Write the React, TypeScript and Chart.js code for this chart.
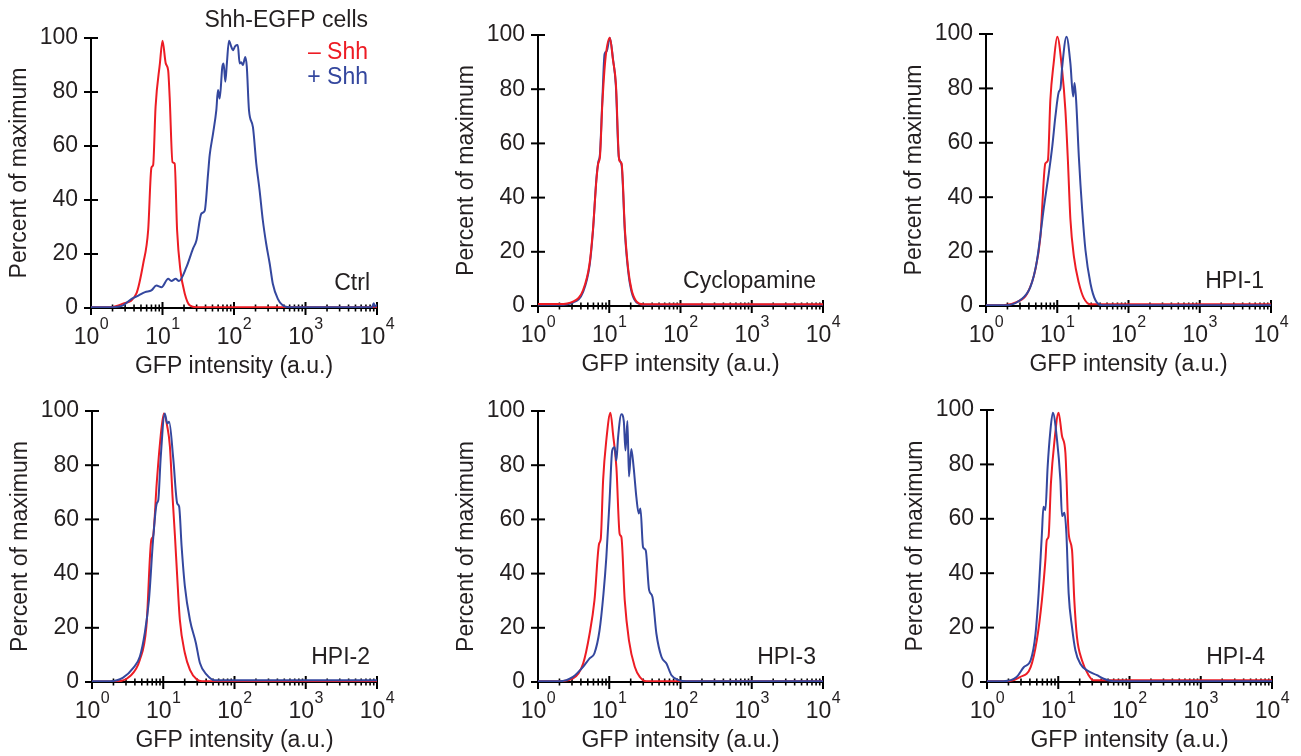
import React, { useEffect, useRef } from 'react';
import { Chart, registerables } from 'chart.js';

Chart.register(...registerables);

const FONT = '"Liberation Sans", Arial, Helvetica, sans-serif';
const TEXT = '#231f20';
const RED = '#ed1c24';
const BLUE = '#34479e';

// ---------- data (GFP intensity, percent of maximum) ----------
const ctrlMinusX = [1, 1.84, 2.8, 4.3, 5.37, 6.3, 7.0, 7.4, 8.0, 9.2, 10, 11.1, 12.0, 12.6, 13.8, 14.8, 16.0, 17.8, 20.5, 24, 29.8, 10000];
const ctrlMinusY = [0.3, 0.3, 1.6, 5.3, 16.4, 28.8, 52, 53, 74.5, 90.6, 99, 90.6, 88, 78, 54, 53.5, 28.8, 14, 5.3, 1, 0.3, 0.3];
const ctrlPlusX = [1, 1.84, 2.8, 3.7, 4.6, 5.7, 7.0, 8.2, 9.7, 12.0, 13.3, 15.3, 17.0, 21.6, 26.7, 29.8, 35.0, 38.9, 43.4, 45.7, 50.9, 56.6, 59.7, 63, 68.7, 71.6, 75.6, 79.5, 85, 91.5, 96.6, 104, 113, 120, 126, 133, 144, 151, 162, 184, 205, 228, 253, 282, 316, 349, 410, 479, 596, 8500, 9000, 9400, 10000];
const ctrlPlusY = [0.3, 0.3, 1, 3.4, 4.6, 5.9, 6.5, 8.3, 7.7, 10.8, 10, 10.8, 10, 15.1, 22, 25, 35, 36, 49.8, 56.6, 64.6, 73.3, 80.7, 77.6, 89.4, 90.6, 83.8, 90.6, 99, 96.8, 95.5, 97, 97.4, 90.6, 91, 90, 93, 89.4, 73.3, 67, 53.5, 43.6, 32.5, 23.8, 16.4, 9, 3.4, 1, 0.3, 0.3, 1.8, 0.5, 1.2];

const cycMinusX = [1, 2.0, 3.1, 4.3, 5.3, 5.9, 6.6, 7.0, 7.4, 8.0, 8.9, 10.2, 11.3, 12.4, 13.8, 14.9, 16.6, 18.5, 20.6, 24.2, 30, 10000];
const cycMinusY = [0.7, 0.7, 1.6, 5.9, 15.7, 28, 46.4, 52.6, 55, 74.7, 91.9, 99, 90.7, 82, 53.8, 52.6, 28, 13.3, 5.9, 1.6, 0.6, 0.6];
const cycPlusX = [1, 2.0, 3.1, 4.3, 5.3, 5.9, 6.6, 7.0, 7.4, 8.0, 8.6, 9.2, 10.2, 11.3, 12.4, 13.6, 14.9, 16.6, 18.5, 20.6, 24.2, 30, 10000];
const cycPlusY = [0.5, 0.5, 1.3, 5.2, 15, 27.5, 47, 53, 56, 76, 93, 94, 99, 91, 81, 55, 52, 27, 12.5, 5.2, 1.3, 0.5, 0.5];

const hpi1MinusX = [1, 1.77, 2.73, 3.77, 4.9, 5.8, 6.8, 7.4, 8.0, 8.9, 10.0, 11.7, 13.0, 14.1, 15.3, 17.1, 20.1, 23.6, 29.3, 10000];
const hpi1MinusY = [0.3, 0.3, 1.5, 4.5, 13.1, 25.4, 52.4, 53.6, 75.7, 89.2, 99, 86.8, 72.1, 53.6, 31.9, 18.3, 8.5, 2.9, 0.6, 0.6];
const hpi1PlusX = [1, 1.9, 3.0, 4.2, 5.2, 6.5, 7.6, 8.5, 9.4, 10.5, 11.1, 11.7, 13.5, 15.3, 16.7, 17.5, 18.4, 20.1, 22.4, 24.9, 29.3, 34.4, 42.8, 10000];
const hpi1PlusY = [0.3, 0.3, 2.1, 7, 16.8, 36.4, 48.7, 58.5, 69.5, 78.7, 80, 87.6, 99, 89.2, 77, 82, 75.7, 54.8, 35.2, 20.5, 8.2, 2.1, 0.3, 0.3];

const hpi2MinusX = [1, 2.2, 3.4, 4.7, 5.8, 6.8, 7.2, 8.1, 9.0, 10.2, 11.4, 12.4, 13.5, 14.6, 15.7, 17.1, 20.1, 23.7, 29.4, 35, 10000];
const hpi2MinusY = [0.2, 0.2, 2.1, 8.2, 20.5, 52.5, 53.8, 73.4, 88.1, 99.1, 94.2, 86.9, 68.5, 53.8, 38.9, 22.9, 10.7, 4.5, 1, 0.3, 0.3];
const hpi2PlusX = [1, 1.8, 2.7, 3.8, 4.7, 5.5, 6.3, 7.2, 8.1, 8.5, 9.2, 10.5, 11.4, 12.1, 13.8, 15.7, 16.7, 18.1, 20.1, 23.7, 28.7, 32.7, 40.6, 53.2, 10000];
const hpi2PlusY = [0.3, 0.3, 1.5, 5.2, 9.4, 18, 30.3, 52.5, 65.9, 67, 82.6, 99.1, 95.4, 96, 82.6, 65.9, 64.8, 50.1, 35.4, 22.9, 14.4, 7, 2.7, 0.6, 0.6];

const hpi3MinusX = [1, 2.0, 3.1, 4.3, 5.3, 6.2, 7.2, 7.6, 8.2, 9.1, 10.4, 11.3, 12.6, 14.0, 14.8, 16.5, 18.9, 22.8, 26.8, 33.2, 10000];
const hpi3MinusY = [0.3, 0.3, 1.3, 6.8, 17.8, 30.1, 51, 52.8, 74.5, 89.3, 99.4, 91.5, 79.2, 54.6, 53.5, 30.1, 15.4, 5.6, 1.9, 0.3, 0.3];
const hpi3PlusX = [1, 2.0, 3.1, 4.3, 5.3, 6.2, 7.3, 8.3, 9.1, 10.1, 11.0, 11.9, 12.6, 13.3, 14.8, 16.0, 16.9, 18.0, 18.9, 20.4, 22.0, 24.0, 25.9, 27.4, 29.8, 32.5, 36.2, 40.4, 45.9, 54, 63.5, 74.7, 97.7, 120, 10000];
const hpi3PlusY = [0.3, 0.3, 1.9, 5.6, 8.7, 10.6, 19, 32.6, 46, 67, 85.4, 86.6, 81.7, 90.3, 98.8, 96.3, 85.4, 96.3, 75.8, 86, 79.2, 68.3, 62.2, 64, 49.8, 48.6, 34, 31.4, 17.8, 9.3, 6.8, 2.5, 0.6, 0.3, 0.3];

const hpi4MinusX = [1, 1.9, 2.9, 4.1, 5.0, 5.9, 6.6, 6.9, 7.3, 7.9, 8.8, 10.1, 11.3, 12.6, 14.0, 15.6, 16.8, 18.3, 21.5, 26.7, 31.3, 10000];
const hpi4MinusY = [0.3, 0.3, 1.8, 5.5, 15.3, 30.1, 44.8, 52.2, 53.4, 73.3, 88, 99, 90.4, 84.3, 54.7, 48.6, 30.1, 16.6, 8, 2.5, 0.6, 0.6];
const hpi4PlusX = [1, 1.7, 2.6, 3.3, 4.1, 4.8, 5.3, 5.9, 6.2, 6.6, 7.1, 7.7, 8.4, 9.6, 10.7, 11.3, 12.2, 13.0, 14.0, 15.6, 17.4, 20.4, 25.3, 35.0, 43.4, 60, 10000];
const hpi4PlusY = [0.3, 0.3, 1.8, 5.5, 8, 17.8, 32.5, 54.7, 64.4, 63.2, 79.2, 91.5, 99, 89.2, 74.5, 61, 62.2, 54.7, 32.5, 20.2, 11.7, 6.7, 4.3, 2.5, 1.2, 0.3, 0.3];

// axis ticks
const xDecades = [1, 10, 100, 1000, 10000];
const xExponents = ['0', '1', '2', '3', '4'];
const xMinorMultipliers = [2, 3, 4, 5, 6, 7, 8, 9];
const yTickStep = 20;

const xTitle = 'GFP intensity (a.u.)';
const yTitle = 'Percent of maximum';
const headerText = 'Shh-EGFP cells';
const legendMinus = '\u2013 Shh';
const legendPlus = '+ Shh';

// ---------- layout ----------
const Y_AXIS_W = 91;
const X_AXIS_H = 72;
const PAD_TOP = 40;
const PAD_RIGHT = 24;

type Panel = {
  label: string;
  left: number; top: number; width: number; height: number;
  minusX: number[]; minusY: number[]; plusX: number[]; plusY: number[];
  redOnTop: boolean; header: boolean;
};

const PANELS: Panel[] = [
  { label: 'Ctrl', left: 91, top: 38, width: 286, height: 270, minusX: ctrlMinusX, minusY: ctrlMinusY, plusX: ctrlPlusX, plusY: ctrlPlusY, redOnTop: false, header: true },
  { label: 'Cyclopamine', left: 538, top: 35, width: 285, height: 271, minusX: cycMinusX, minusY: cycMinusY, plusX: cycPlusX, plusY: cycPlusY, redOnTop: true, header: false },
  { label: 'HPI-1', left: 986, top: 34, width: 285, height: 272, minusX: hpi1MinusX, minusY: hpi1MinusY, plusX: hpi1PlusX, plusY: hpi1PlusY, redOnTop: false, header: false },
  { label: 'HPI-2', left: 92, top: 411, width: 285, height: 271, minusX: hpi2MinusX, minusY: hpi2MinusY, plusX: hpi2PlusX, plusY: hpi2PlusY, redOnTop: false, header: false },
  { label: 'HPI-3', left: 538, top: 411, width: 285, height: 271, minusX: hpi3MinusX, minusY: hpi3MinusY, plusX: hpi3PlusX, plusY: hpi3PlusY, redOnTop: false, header: false },
  { label: 'HPI-4', left: 987, top: 410, width: 285, height: 272, minusX: hpi4MinusX, minusY: hpi4MinusY, plusX: hpi4PlusX, plusY: hpi4PlusY, redOnTop: false, header: false },
];

const toPoints = (xs: number[], ys: number[]) => xs.map((x, i) => ({ x, y: ys[i] }));

function decorPlugin(p: Panel) {
  return {
    id: 'decor',
    beforeDatasetsDraw(chart: any) {
      const { ctx, chartArea } = chart;
      const xs = chart.scales.x;
      const ys = chart.scales.y;
      const L = chartArea.left;
      const B = chartArea.bottom;
      ctx.save();
      ctx.strokeStyle = '#000';
      ctx.lineCap = 'butt';
      ctx.lineWidth = 2;
      ys.ticks.forEach((t: any) => {
        const y = ys.getPixelForValue(t.value);
        ctx.beginPath();
        ctx.moveTo(L - 7, y);
        ctx.lineTo(L + 7, y);
        ctx.stroke();
      });
      xDecades.forEach((d) => {
        const x = xs.getPixelForValue(d);
        ctx.lineWidth = 2;
        ctx.beginPath();
        ctx.moveTo(x, B - 6);
        ctx.lineTo(x, B + 7);
        ctx.stroke();
      });
      xDecades.slice(0, 4).forEach((d) => {
        xMinorMultipliers.forEach((m) => {
          const x = xs.getPixelForValue(d * m);
          ctx.lineWidth = 1.6;
          ctx.beginPath();
          ctx.moveTo(x, B - 3.5);
          ctx.lineTo(x, B + 3.5);
          ctx.stroke();
        });
      });
      ctx.restore();
    },
    afterDraw(chart: any) {
      const { ctx, chartArea } = chart;
      const xs = chart.scales.x;
      const R = chartArea.right;
      const T = chartArea.top;
      const B = chartArea.bottom;
      ctx.save();
      ctx.fillStyle = TEXT;
      ctx.textBaseline = 'alphabetic';
      ctx.textAlign = 'left';
      xDecades.forEach((d, i) => {
        const px = xs.getPixelForValue(d);
        ctx.font = `23px ${FONT}`;
        const w1 = ctx.measureText('10').width;
        ctx.font = `16px ${FONT}`;
        const w2 = ctx.measureText(xExponents[i]).width;
        const x0 = px - (w1 + w2) / 2;
        ctx.font = `23px ${FONT}`;
        ctx.fillText('10', x0, B + 35.5);
        ctx.font = `16px ${FONT}`;
        ctx.fillText(xExponents[i], x0 + w1 + 0.5, B + 21);
      });
      ctx.font = `23px ${FONT}`;
      ctx.textAlign = 'right';
      ctx.textBaseline = 'middle';
      ctx.fillText(p.label, R - 7, B - 24);
      if (p.header) {
        ctx.fillStyle = TEXT;
        ctx.fillText(headerText, R - 9, T - 17);
        ctx.fillStyle = RED;
        ctx.fillText(legendMinus, R - 9, T + 15);
        ctx.fillStyle = BLUE;
        ctx.fillText(legendPlus, R - 9, T + 40);
      }
      ctx.restore();
    },
  };
}

function PanelChart({ p }: { p: Panel }) {
  const ref = useRef<HTMLCanvasElement | null>(null);
  const cw = Y_AXIS_W + p.width + PAD_RIGHT;
  const ch = PAD_TOP + p.height + X_AXIS_H;
  useEffect(() => {
    if (!ref.current) return;
    const red = {
      data: toPoints(p.minusX, p.minusY),
      borderColor: RED, borderWidth: 2, pointRadius: 0, cubicInterpolationMode: 'monotone', fill: false,
    };
    const blue = {
      data: toPoints(p.plusX, p.plusY),
      borderColor: BLUE, borderWidth: 2, pointRadius: 0, cubicInterpolationMode: 'monotone', fill: false,
    };
    const datasets = p.redOnTop ? [red, blue] : [blue, red];
    const titleFont = { family: FONT, size: 23 };
    const chart = new Chart(ref.current, {
      type: 'line',
      data: { datasets: datasets as any },
      options: {
        animation: false,
        responsive: false,
        maintainAspectRatio: false,
        devicePixelRatio: 1,
        events: [],
        layout: { padding: { left: 0, top: PAD_TOP, right: PAD_RIGHT, bottom: 0 } },
        plugins: { legend: { display: false }, tooltip: { enabled: false } },
        scales: {
          x: {
            type: 'logarithmic',
            min: 1,
            max: 10000,
            position: 'bottom',
            grid: { display: false, drawTicks: false },
            border: { display: true, color: '#000', width: 2 },
            ticks: { display: false },
            title: { display: true, text: xTitle, color: TEXT, font: titleFont, padding: { top: 0, bottom: 0 } },
            afterFit: (s: any) => { s.height = X_AXIS_H; s.paddingLeft = 0; s.paddingRight = 0; },
          },
          y: {
            min: 0,
            max: 100,
            position: 'left',
            grid: { display: false, drawTicks: false },
            border: { display: true, color: '#000', width: 2 },
            ticks: { stepSize: yTickStep, color: TEXT, font: { family: FONT, size: 23 }, padding: 13 },
            title: { display: true, text: yTitle, color: TEXT, font: titleFont, padding: { top: 6, bottom: 0 } },
            afterFit: (s: any) => { s.width = Y_AXIS_W; s.paddingTop = 0; s.paddingBottom = 0; },
          },
        },
      } as any,
      plugins: [decorPlugin(p)],
    });
    return () => chart.destroy();
  }, [p]);
  return (
    <canvas
      ref={ref}
      width={cw}
      height={ch}
      style={{
        position: 'absolute',
        left: p.left - Y_AXIS_W,
        top: p.top - PAD_TOP,
        width: cw,
        height: ch,
      }}
    />
  );
}

export default function App() {
  useEffect(() => {
    document.body.style.overflow = 'hidden';
    document.body.style.background = '#fff';
  }, []);
  return (
    <div>
      {PANELS.map((p) => (
        <PanelChart key={p.label} p={p} />
      ))}
    </div>
  );
}
